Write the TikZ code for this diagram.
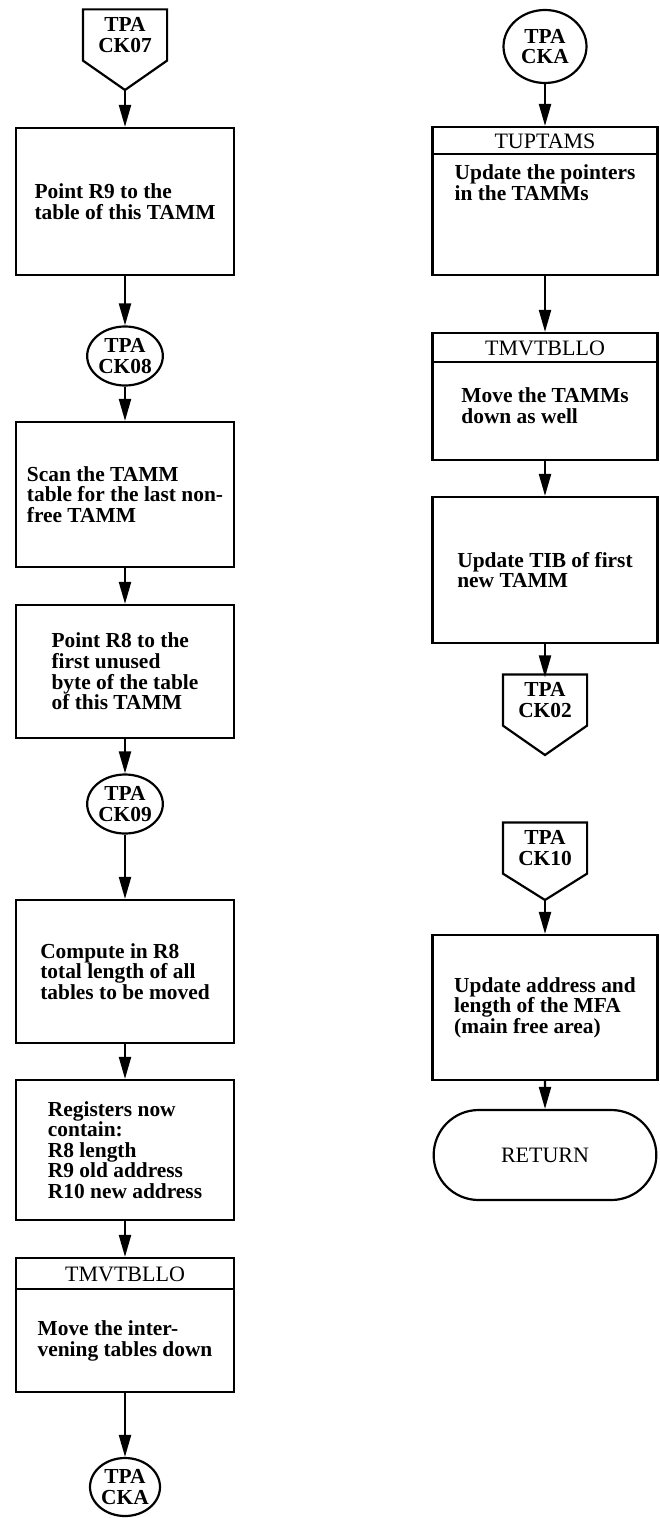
\documentclass[tikz,border=0pt]{standalone}
\usepackage{fontspec}
\setmainfont{Liberation Serif}
\usetikzlibrary{arrows.meta,shapes.geometric,shapes.misc}

\begin{document}
\begin{tikzpicture}[x=0.5pt,y=-0.5pt,line width=1.1pt,
    font=\fontsize{10.5}{10.3}\selectfont,
    arr/.style={-{Triangle[length=11pt,width=6pt]}},
    box/.style={draw,rectangle,minimum width=109pt,align=left,font=\fontsize{10.7}{10.3}\selectfont\bfseries},
    wbox/.style={box,minimum width=112.5pt},
    txt/.style={align=left,inner sep=0pt,font=\fontsize{10.7}{10.5}\selectfont\bfseries},
    hdr/.style={inner sep=0pt,font=\fontsize{11}{11}\selectfont},
    conn/.style={rectangle,minimum width=41pt,minimum height=21.5pt,inner sep=0pt,align=center,font=\fontsize{10.7}{10.3}\selectfont\bfseries},
    circ/.style={draw,ellipse,minimum width=36pt,minimum height=29.5pt,inner sep=0pt,align=center,font=\fontsize{10.7}{10.3}\selectfont\bfseries},
    term/.style={draw,rounded rectangle,minimum width=118pt,minimum height=45pt,font=\fontsize{11}{11}\selectfont}]
    \useasboundingbox (0,0) rectangle (659,1518);
    % left column
    \node[conn] (ck07) at (125,35) {TPA\\CK07};
    \coordinate (ck07tip) at (125,90);
    \draw ([yshift=-1.5pt]ck07.south west) -- ([yshift=1.5pt]ck07.north west) -- ([yshift=1.5pt]ck07.north east) -- ([yshift=-1.5pt]ck07.south east) -- (ck07tip) -- cycle;
    \node[box,minimum height=73.5pt] (r9) at (125,201.5) {Point R9 to the\\table of this TAMM};
    \node[circ] (ck08) at (125,356) {TPA\\CK08};
    \node[box,minimum height=72.5pt] (scan) at (125,494.5) {Scan the TAMM\\table for the last non-\\free TAMM};
    \node[box,minimum height=66.5pt] (r8) at (125,671.5) {Point R8 to the\\first unused\\byte of the table\\of this TAMM};
    \node[circ] (ck09) at (125,804) {TPA\\CK09};
    \node[box,minimum height=71.5pt] (comp) at (125,971.5) {Compute in R8\\total length of all\\tables to be moved};
    \node[box,minimum height=70pt] (regs) at (125,1150) {Registers now\\contain:\\R8 length\\R9 old address\\R10 new address};
    \node[box,minimum height=67pt] (tmv1) at (125,1325) {};
    \draw ([yshift=-16pt]tmv1.north west) -- ([yshift=-16pt]tmv1.north east);
    \node[hdr] (tmv1h) at (125,1274) {TMVTBLLO};
    \node[txt] (tmv1b) at (125,1341) {Move the inter-\\vening tables down};
    \node[circ,minimum width=35pt,minimum height=29pt] (cka1) at (125,1487) {TPA\\CKA};
    \draw[arr] (ck07tip) -- (r9);
    \draw[arr] (r9) -- (ck08);
    \draw[arr] (ck08) -- (scan);
    \draw[arr] (scan) -- (r8);
    \draw[arr] (r8) -- (ck09);
    \draw[arr] (ck09) -- (comp);
    \draw[arr] (comp) -- (regs);
    \draw[arr] (regs) -- (tmv1);
    \draw[arr] (tmv1) -- (cka1);
    % right column
    \node[circ,minimum width=41.5pt,minimum height=36.5pt] (cka2) at (545,46.5) {TPA\\CKA};
    \node[wbox,minimum height=74pt] (tup) at (545,201) {};
    \draw ([yshift=-14pt]tup.north west) -- ([yshift=-14pt]tup.north east);
    \node[hdr] (tuph) at (545,141) {TUPTAMS};
    \node[txt] (tupb) at (545,183) {Update the pointers\\in the TAMMs};
    \node[wbox,minimum height=63.5pt] (tmv2) at (545,396.5) {};
    \draw ([yshift=-15pt]tmv2.north west) -- ([yshift=-15pt]tmv2.north east);
    \node[hdr] (tmv2h) at (545,348) {TMVTBLLO};
    \node[txt] (tmv2b) at (545,406) {Move the TAMMs\\down as well};
    \node[wbox,minimum height=73pt] (tib) at (545,570) {Update TIB of first\\new TAMM};
    \node[conn] (ck02) at (545,700) {TPA\\CK02};
    \coordinate (ck02tip) at (545,755);
    \draw ([yshift=-1.5pt]ck02.south west) -- ([yshift=1.5pt]ck02.north west) -- ([yshift=1.5pt]ck02.north east) -- ([yshift=-1.5pt]ck02.south east) -- (ck02tip) -- cycle;
    \node[conn] (ck10) at (545,848) {TPA\\CK10};
    \coordinate (ck10tip) at (545,900);
    \draw ([yshift=-1.5pt]ck10.south west) -- ([yshift=1.5pt]ck10.north west) -- ([yshift=1.5pt]ck10.north east) -- ([yshift=-1.5pt]ck10.south east) -- (ck10tip) -- cycle;
    \node[wbox,minimum height=72.5pt] (mfa) at (545,1007.5) {Update address and\\length of the MFA\\(main free area)};
    \node[term] (ret) at (545,1155) {RETURN};
    \draw[arr] (cka2) -- (tup);
    \draw[arr] (tup) -- (tmv2);
    \draw[arr] (tmv2) -- (tib);
    \draw[arr] (tib) -- (ck02);
    \draw[arr] (ck10tip) -- (mfa);
    \draw[arr] (mfa) -- (ret);
\end{tikzpicture}
\end{document}
